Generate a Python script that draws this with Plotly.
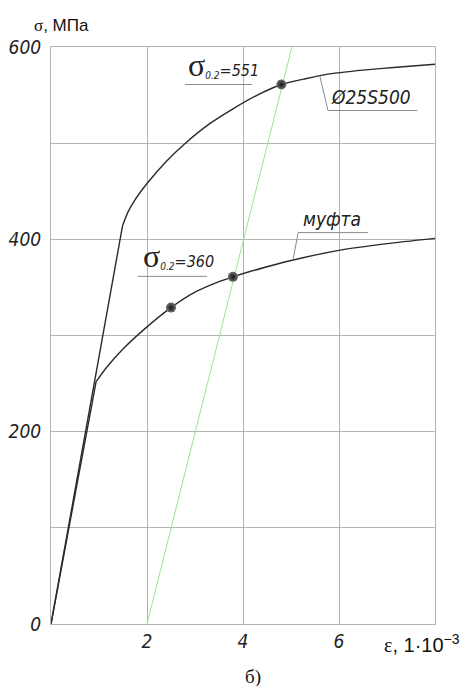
import numpy as np
import plotly.graph_objects as go

# --- data ---
rebar_eps = [0, 1.49, 1.6, 1.75, 2.0, 2.4, 2.8, 3.3, 3.8, 4.3, 4.8, 5.3, 5.8, 6.5, 7.2, 8.0]
rebar_sig = [0, 414, 428, 441, 458, 481, 500, 520, 536, 550, 561, 567, 572, 576, 579, 582]

coupler_eps = [0, 0.94, 1.16, 1.5, 2.0, 2.5, 3.0, 3.5, 3.79, 4.5, 5.0, 6.0, 7.0, 8.0]
coupler_sig = [0, 252, 267, 286, 309, 329, 345, 356, 361, 371.5, 378, 388.5, 395.5, 401]

offset_eps = [2.0, 5.02]
offset_sig = [0, 600]

pt_eps = [2.5, 3.79, 4.8]
pt_sig = [329, 361, 561]

y_tickvals = [0, 200, 400, 600]
y_ticktext = ["0", "200", "400", "600"]
x_tickvals = [2, 4, 6]
x_ticktext = ["2", "4", "6"]

TECH = "DejaVu Sans Condensed, Liberation Sans Narrow, Liberation Sans, sans-serif"
GRID = "#b4b4b4"
CURVE = "#2a2a2a"

fig = go.Figure()
fig.add_trace(go.Scatter(x=offset_eps, y=offset_sig, mode="lines",
                         line=dict(color="#9be39b", width=1), hoverinfo="skip"))
for xs, ys in ((rebar_eps, rebar_sig), (coupler_eps, coupler_sig)):
    # elastic branch (straight)
    fig.add_trace(go.Scatter(x=xs[:2], y=ys[:2], mode="lines",
                             line=dict(color=CURVE, width=1.4)))
    # hardening branch (smooth)
    fig.add_trace(go.Scatter(x=xs[1:], y=ys[1:], mode="lines",
                             line=dict(color=CURVE, width=1.4, shape="spline", smoothing=0.6)))
fig.add_trace(go.Scatter(x=pt_eps, y=pt_sig, mode="markers",
                         marker=dict(size=10, color="#707070",
                                     gradient=dict(type="radial", color="#151515"),
                                     line=dict(width=0))))

def shape_line(x0, y0, x1, y1, color="#8a8a8a", w=1):
    fig.add_shape(type="line", x0=x0, y0=y0, x1=x1, y1=y1, xref="x", yref="y",
                  line=dict(color=color, width=w))

# sigma 551 underline
shape_line(2.79, 561, 4.19, 561)
# Ø25S500 underline + leader
shape_line(5.77, 534, 7.63, 534)
shape_line(5.77, 534, 5.6, float(np.interp(5.6, rebar_eps, rebar_sig)))
# муфта underline + leader
shape_line(5.15, 407, 6.6, 407)
shape_line(5.15, 407, 5.04, float(np.interp(5.04, coupler_eps, coupler_sig)))
# sigma 360 underline
shape_line(1.81, 361.5, 3.25, 361.5)

tfont = dict(family=TECH, size=16, color="#222222", style="italic")
sig_span = "<span style='font-family:Liberation Serif;font-size:32px;font-style:normal'>σ</span>"
sub = "<sub><span style='font-size:10px'>0.2</span></sub>"
fig.add_annotation(x=2.82, y=561, xref="x", yref="y", xanchor="left", yanchor="bottom",
                   text=sig_span + sub + "=551", showarrow=False, font=tfont)
fig.add_annotation(x=1.88, y=361.5, xref="x", yref="y", xanchor="left", yanchor="bottom",
                   text=sig_span + sub + "=360", showarrow=False, font=tfont)
fig.add_annotation(x=5.8, y=535, xref="x", yref="y", xanchor="left", yanchor="bottom",
                   text="Ø25S500", showarrow=False,
                   font=dict(family=TECH, size=19, color="#222222", style="italic"))
fig.add_annotation(x=5.2, y=408, xref="x", yref="y", xanchor="left", yanchor="bottom",
                   text="муфта", showarrow=False,
                   font=dict(family=TECH, size=19, color="#222222", style="italic"))

# axis titles (positions given in pixels, converted below)
fig.add_annotation(x=32, y=686 - 25, xref="paper", yref="paper", showarrow=False,
                   text="<span style='font-family:Liberation Serif'>σ</span>, МПа",
                   font=dict(family="Liberation Sans, Arial", size=17, color="#111111"),
                   xanchor="left", yanchor="middle")
fig.add_annotation(x=382, y=686 - 643, xref="paper", yref="paper", showarrow=False,
                   text="<span style='font-family:Liberation Serif'>ε</span>, 1·10<sup>−3</sup>",
                   font=dict(family="Liberation Sans, Arial", size=20, color="#111111"),
                   xanchor="left", yanchor="middle")
fig.add_annotation(x=253, y=686 - 677, xref="paper", yref="paper", showarrow=False,
                   text="б)", font=dict(family="Liberation Serif", size=19, color="#111111"),
                   xanchor="center", yanchor="middle")

W, H = 467, 686
ML, MR, MT, MB = 51, 32, 47, 62
pw, ph = W - ML - MR, H - MT - MB
for a in fig.layout.annotations:
    if a.xref == "paper":
        a.x = (a.x - ML) / pw
        a.y = (a.y - MB) / ph

tickfont = dict(family=TECH, size=19, color="#222222", style="italic")
fig.update_layout(
    width=W, height=H, margin=dict(l=ML, r=MR, t=MT, b=MB, autoexpand=False),
    paper_bgcolor="white", plot_bgcolor="white", showlegend=False,
    xaxis=dict(range=[0, 8], tickvals=x_tickvals, ticktext=x_ticktext, automargin=False,
               showgrid=True, gridcolor=GRID, gridwidth=1, zeroline=False,
               showline=True, linecolor=GRID, linewidth=1, mirror=True,
               ticks="", ticklabelstandoff=0, tickfont=tickfont),
    yaxis=dict(range=[0, 600], tickvals=y_tickvals, ticktext=y_ticktext, automargin=False,
               showgrid=True, gridcolor=GRID, gridwidth=1, zeroline=False,
               showline=True, linecolor=GRID, linewidth=1, mirror=True,
               minor=dict(dtick=100, showgrid=True, gridcolor=GRID, gridwidth=1, ticks=""),
               ticks="", ticklabelstandoff=5, tickfont=tickfont),
)

fig.write_html("out.html", config={"displayModeBar": False},
               post_script="document.body.style.margin='0';")
